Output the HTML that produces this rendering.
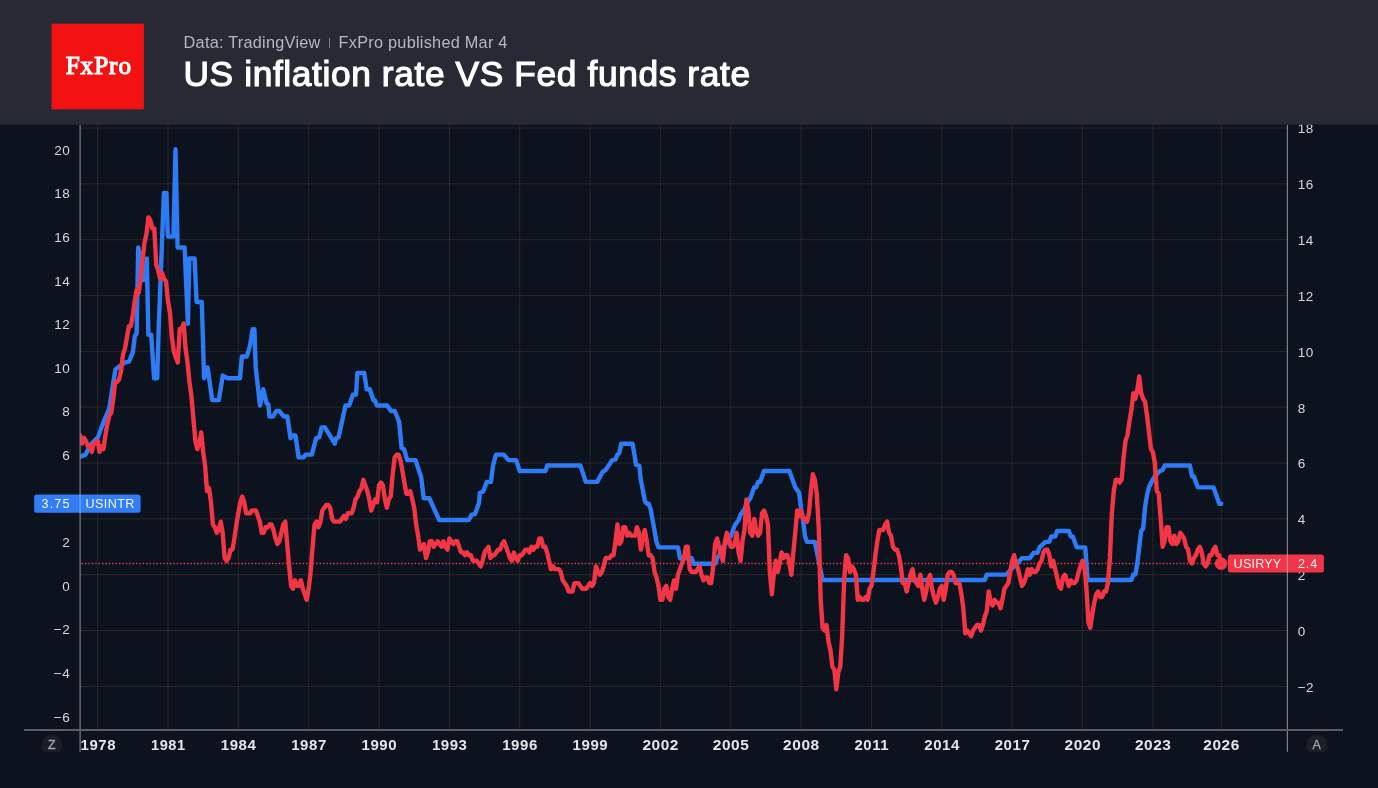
<!DOCTYPE html>
<html lang="en">
<head>
<meta charset="utf-8">
<title>US inflation rate VS Fed funds rate</title>
<style>
html,body{margin:0;padding:0;}
body{width:1378px;height:788px;overflow:hidden;background:#0c131f;font-family:"Liberation Sans",sans-serif;position:relative;}
#hdr{position:absolute;left:0;top:0;width:1378px;height:124.7px;}
#logo{position:absolute;left:51.6px;top:23.7px;width:92.3px;height:85.6px;color:#fff;font-family:"Liberation Serif",serif;font-weight:normal;font-size:25.2px;line-height:85.6px;text-align:center;letter-spacing:0.95px;-webkit-text-stroke:1.15px #fff;}
#logo span{position:relative;top:-1.2px;left:1.1px;}
#sub{position:absolute;left:183.6px;top:32px;font-size:16.3px;line-height:20px;color:#b6b8c1;white-space:nowrap;letter-spacing:0.25px;}
#sub .sep{display:inline-block;width:1px;height:10px;background:#7a7d88;margin:0 8.5px 0 8.5px;}
#ttl{position:absolute;left:183.5px;top:52.3px;font-size:35.3px;line-height:44px;color:#fff;white-space:nowrap;-webkit-text-stroke:1.2px #fff;letter-spacing:0.62px;}
#chart{position:absolute;left:0;top:0;}
</style>
</head>
<body>
<svg id="chart" width="1378" height="788" viewBox="0 0 1378 788">
<defs><clipPath id="pc"><rect x="80.1" y="124.7" width="1207.3000000000002" height="605.1999999999999"/></clipPath></defs>
<g stroke="#292725" stroke-width="1">
<line x1="97.62" y1="124.7" x2="97.62" y2="729.9"/>
<line x1="167.97" y1="124.7" x2="167.97" y2="729.9"/>
<line x1="238.32" y1="124.7" x2="238.32" y2="729.9"/>
<line x1="308.67" y1="124.7" x2="308.67" y2="729.9"/>
<line x1="379.02" y1="124.7" x2="379.02" y2="729.9"/>
<line x1="449.37" y1="124.7" x2="449.37" y2="729.9"/>
<line x1="519.72" y1="124.7" x2="519.72" y2="729.9"/>
<line x1="590.07" y1="124.7" x2="590.07" y2="729.9"/>
<line x1="660.42" y1="124.7" x2="660.42" y2="729.9"/>
<line x1="730.77" y1="124.7" x2="730.77" y2="729.9"/>
<line x1="801.12" y1="124.7" x2="801.12" y2="729.9"/>
<line x1="871.47" y1="124.7" x2="871.47" y2="729.9"/>
<line x1="941.82" y1="124.7" x2="941.82" y2="729.9"/>
<line x1="1012.17" y1="124.7" x2="1012.17" y2="729.9"/>
<line x1="1082.52" y1="124.7" x2="1082.52" y2="729.9"/>
<line x1="1152.87" y1="124.7" x2="1152.87" y2="729.9"/>
<line x1="1221.31" y1="124.7" x2="1221.31" y2="729.9"/>
<line x1="80.1" y1="128.00" x2="1287.4" y2="128.00"/>
<line x1="80.1" y1="183.84" x2="1287.4" y2="183.84"/>
<line x1="80.1" y1="239.68" x2="1287.4" y2="239.68"/>
<line x1="80.1" y1="295.52" x2="1287.4" y2="295.52"/>
<line x1="80.1" y1="351.36" x2="1287.4" y2="351.36"/>
<line x1="80.1" y1="407.20" x2="1287.4" y2="407.20"/>
<line x1="80.1" y1="463.04" x2="1287.4" y2="463.04"/>
<line x1="80.1" y1="518.88" x2="1287.4" y2="518.88"/>
<line x1="80.1" y1="574.72" x2="1287.4" y2="574.72"/>
<line x1="80.1" y1="630.56" x2="1287.4" y2="630.56"/>
<line x1="80.1" y1="686.40" x2="1287.4" y2="686.40"/>
</g>
<line x1="81.6" y1="563.5" x2="1228" y2="563.5" stroke="#ee3a4e" stroke-width="1.3" stroke-dasharray="1.4 2.0"/>
<g clip-path="url(#pc)" fill="none" stroke-linejoin="round" stroke-linecap="round" stroke-width="4.4">
<polyline stroke="#2e7bf6" points="80.3,456.821 85.5,454.64 90.5,444.826 98,437.192 103.5,421.925 109.2,408.839 112.9,384.848 115.4,369.581 119.2,366.309 125.4,362.384 129.2,361.293 132.9,352.133 134.8,336.212 136.6,333.594 138.2,247.445 143.6,280.16 144.7,280.16 146.8,258.35 148.4,334.685 151.2,334.685 154.1,378.305 157.2,378.305 158.7,328.142 163.9,192.92 166.4,192.92 167.8,236.54 173.4,236.54 175.5,149.3 177.6,247.445 184.6,247.445 187.9,323.78 189.3,258.35 194.6,258.35 196.6,301.97 201.8,301.97 204.1,378.305 207.6,367.4 212.2,400.115 218.8,400.115 222.8,375.579 227.8,378.305 240,378.305 241.9,356.495 246.8,356.495 250,345.59 252.6,329.232 254.4,329.232 255.7,367.4 260,405.567 263.2,389.21 266.6,403.387 268.4,404.477 269.4,416.472 273.1,416.472 276.2,411.02 279.3,411.02 283.7,416.472 287.4,416.472 290.5,438.282 292.4,435.556 295.5,435.556 298.6,457.366 303.6,457.366 305.5,454.64 311.8,454.64 316.1,438.282 319.2,437.192 321.7,427.377 324.9,427.377 334.8,443.735 336.1,438.282 338.6,437.192 345.5,405.567 349.2,405.567 352.9,394.663 356,394.663 357.4,372.852 364.2,372.852 366.7,389.21 369.8,389.21 373.3,400.115 374.8,400.115 376.9,405.567 387.2,405.567 391,411.02 394.7,411.02 399.2,421.925 401.6,448.097 404.1,449.188 407.2,460.092 415.6,460.092 421.2,477.541 423.7,498.26 429.3,498.26 439.3,520.07 468.7,520.07 471.8,514.618 474.9,514.181 479,503.058 479.9,492.808 483,491.717 486.8,481.902 491,481.902 493,465.545 496,454.64 503.8,454.64 508.5,460.092 516.2,460.092 519.7,470.998 545.6,470.998 547.2,465.545 580.4,465.545 585.8,481.902 597.3,481.902 602.5,472.088 605.6,469.907 612.4,460.092 615.5,459.438 617.4,454.64 619.3,453.113 621.2,443.735 632.6,443.735 636.1,464.891 639.3,465.545 640.6,478.631 644.9,501.095 646.8,503.712 648.7,503.71 650.66,509.16 652.61,520.07 654.57,530.97 656.52,541.88 658.48,547.33 678.02,547.33 679.97,558.24 691.7,558.24 693.65,563.69 715.15,563.69 717.1,558.24 721.01,552.78 722.96,547.33 726.87,541.88 728.83,536.43 730.78,536.43 732.74,530.97 734.69,525.52 738.6,520.07 740.55,514.62 744.46,509.16 746.41,503.71 750.32,498.26 752.28,492.81 754.23,487.36 756.19,487.36 758.14,481.9 760.09,481.9 762.05,476.45 764,471 789.41,471 793.32,481.9 795.27,487.36 799.18,492.81 801.13,509.16 803.09,520.07 805.04,536.43 806.99,541.88 814.81,541.88 822.63,580.05 984.83,580.05 986.78,574.6 1006.32,574.6 1021.96,558.24 1029.77,558.24 1033.68,552.78 1037.59,552.78 1039.54,547.33 1045.41,541.88 1049.32,541.88 1051.27,536.43 1055.18,536.43 1057.13,530.97 1068.86,530.97 1070.81,536.43 1072.77,536.43 1074.72,541.88 1076.67,547.33 1085.27,547.33 1087.62,580.05 1131.39,580.05 1133.35,574.6 1135.3,574.6 1137.25,563.69 1139.21,547.33 1141.16,530.97 1143.12,528.79 1145.07,506.98 1147.03,494.99 1148.98,487.36 1150.93,482.99 1152.89,479.29 1154.84,476.45 1156.8,474.27 1158.75,472.09 1160.7,470.56 1162.66,469.91 1164.61,465.55 1190.02,465.55 1191.97,476.45 1193.93,476.45 1195.88,481.9 1197.83,487.36 1213.47,487.36 1215.42,492.81 1217.38,498.26 1219.33,503.71 1221.28,503.71"/>
<polyline stroke="#f23645" points="80.03,435.12 81.99,443.5 83.94,437.91 85.89,440.7 87.85,446.29 89.8,446.29 91.76,451.87 93.71,443.5 95.67,443.5 97.62,440.7 99.57,451.87 101.53,446.29 103.48,449.08 105.44,435.12 107.39,423.95 109.35,415.58 111.3,412.78 113.25,398.82 115.21,382.07 117.16,382.07 119.12,379.28 121.07,370.9 123.02,354.15 124.98,348.57 126.93,337.4 128.89,326.23 130.84,326.23 132.8,315.06 134.75,301.1 136.7,289.94 138.66,292.73 140.61,278.77 142.57,259.22 144.52,242.47 146.47,234.1 148.43,217.34 150.38,220.14 152.34,228.51 154.29,228.51 156.25,264.81 158.2,270.39 160.15,278.77 162.11,273.18 164.06,278.77 166.02,281.56 167.97,301.1 169.93,312.27 171.88,337.4 173.83,351.36 175.79,356.94 177.74,362.53 179.7,329.02 181.65,329.02 183.6,323.44 185.56,348.57 187.51,362.53 189.47,382.07 191.42,396.03 193.38,418.37 195.33,440.7 197.28,449.08 199.24,443.5 201.19,432.33 203.15,451.87 205.1,465.83 207.06,490.96 209.01,488.17 210.96,502.13 212.92,524.46 214.87,527.26 216.83,532.84 218.78,530.05 220.73,521.67 222.69,532.84 224.64,557.97 226.6,560.76 228.55,557.97 230.51,549.59 232.46,549.59 234.41,538.42 236.37,524.46 238.32,513.3 240.28,502.13 242.23,496.54 244.19,502.13 246.14,513.3 248.09,513.3 250.05,513.3 252,510.5 253.96,510.5 255.91,510.5 257.86,516.09 259.82,521.67 261.77,532.84 263.73,532.84 265.68,527.26 267.64,527.26 269.59,524.46 271.54,524.46 273.5,530.05 275.45,538.42 277.41,544.01 279.36,541.22 281.31,532.84 283.27,524.46 285.22,521.67 287.18,544.01 289.13,566.34 291.09,585.89 293.04,588.68 294.99,580.3 296.95,585.89 298.9,585.89 300.86,580.3 302.81,588.68 304.77,594.26 306.72,599.85 308.67,588.68 310.63,571.93 312.58,546.8 314.54,524.46 316.49,521.67 318.44,527.26 320.4,521.67 322.35,510.5 324.31,507.71 326.26,504.92 328.22,504.92 330.17,507.71 332.12,518.88 334.08,521.67 336.03,521.67 337.99,521.67 339.94,521.67 341.89,518.88 343.85,516.09 345.8,518.88 347.76,513.3 349.71,513.3 351.67,513.3 353.62,507.71 355.57,499.34 357.53,496.54 359.48,490.96 361.44,488.17 363.39,479.79 365.35,485.38 367.3,490.96 369.25,499.34 371.21,510.5 373.16,504.92 375.12,499.34 377.07,502.13 379.02,485.38 380.98,482.58 382.93,485.38 384.89,499.34 386.84,507.71 388.8,499.34 390.75,496.54 392.7,474.21 394.66,457.46 396.61,454.66 398.57,454.66 400.52,460.25 402.48,471.42 404.43,482.58 406.38,493.75 408.34,493.75 410.29,490.96 412.25,499.34 414.2,507.71 416.15,524.46 418.11,535.63 420.06,549.59 422.02,546.8 423.97,544.01 425.93,557.97 427.88,552.38 429.83,541.22 431.79,541.22 433.74,546.8 435.7,544.01 437.65,541.22 439.61,544.01 441.56,546.8 443.51,541.22 445.47,546.8 447.42,549.59 449.38,538.42 451.33,541.22 453.28,544.01 455.24,541.22 457.19,541.22 459.15,546.8 461.1,552.38 463.06,552.38 465.01,555.18 466.96,552.38 468.92,555.18 470.87,555.18 472.83,560.76 474.78,560.76 476.73,560.76 478.69,563.55 480.64,566.34 482.6,560.76 484.55,552.38 486.51,549.59 488.46,546.8 490.41,557.97 492.37,555.18 494.32,555.18 496.28,552.38 498.23,549.59 500.19,549.59 502.14,544.01 504.09,541.22 506.05,546.8 508,552.38 509.96,557.97 511.91,560.76 513.86,552.38 515.82,557.97 517.77,560.76 519.73,555.18 521.68,555.18 523.64,552.38 525.59,549.59 527.54,549.59 529.5,552.38 531.45,546.8 533.41,549.59 535.36,546.8 537.32,546.8 539.27,538.42 541.22,538.42 543.18,546.8 545.13,546.8 547.09,552.38 549.04,560.76 550.99,569.14 552.95,566.34 554.9,569.14 556.86,569.14 558.81,569.14 560.77,571.93 562.72,580.3 564.67,583.1 566.63,585.89 568.58,591.47 570.54,591.47 572.49,591.47 574.44,583.1 576.4,583.1 578.35,583.1 580.31,585.89 582.26,588.68 584.22,588.68 586.17,588.68 588.12,585.89 590.08,583.1 592.03,585.89 593.99,583.1 595.94,566.34 597.9,571.93 599.85,574.72 601.8,571.93 603.76,566.34 605.71,557.97 607.67,557.97 609.62,557.97 611.57,555.18 613.53,555.18 615.48,541.22 617.44,524.46 619.39,544.01 621.35,541.22 623.3,527.26 625.25,527.26 627.21,535.63 629.16,532.84 631.12,535.63 633.07,535.63 635.02,535.63 636.98,527.26 638.93,532.84 640.89,549.59 642.84,538.42 644.8,530.05 646.75,541.22 648.7,555.18 650.66,555.18 652.61,557.97 654.57,571.93 656.52,577.51 658.48,585.89 660.43,599.85 662.38,599.85 664.34,588.68 666.29,585.89 668.25,597.06 670.2,599.85 672.15,588.68 674.11,580.3 676.06,588.68 678.02,574.72 679.97,569.14 681.93,563.55 683.88,557.97 685.83,546.8 687.79,546.8 689.74,569.14 691.7,571.93 693.65,571.93 695.61,571.93 697.56,569.14 699.51,566.34 701.47,574.72 703.42,580.3 705.38,577.51 707.33,577.51 709.28,583.1 711.24,583.1 713.19,566.34 715.15,544.01 717.1,538.42 719.06,546.8 721.01,555.18 722.96,560.76 724.92,541.22 726.87,532.84 728.83,538.42 730.78,546.8 732.74,546.8 734.69,544.01 736.64,532.84 738.6,552.38 740.55,560.76 742.51,541.22 744.46,530.05 746.41,499.34 748.37,510.5 750.32,532.84 752.28,535.63 754.23,518.88 756.19,530.05 758.14,535.63 760.09,532.84 762.05,513.3 764,510.5 765.96,516.09 767.91,524.46 769.86,571.93 771.82,594.26 773.77,574.72 775.73,560.76 777.68,571.93 779.64,563.55 781.59,552.38 783.54,557.97 785.5,555.18 787.45,555.18 789.41,563.55 791.36,574.72 793.32,552.38 795.27,532.84 797.22,510.5 799.18,516.09 801.13,510.5 803.09,518.88 805.04,518.88 806.99,521.67 808.95,513.3 810.9,490.96 812.86,474.21 814.81,479.79 816.77,493.75 818.72,527.26 820.67,599.85 822.63,627.77 824.58,630.56 826.54,624.98 828.49,641.73 830.44,650.1 832.4,666.86 834.35,669.65 836.31,689.19 838.26,672.44 840.22,666.86 842.17,636.14 844.12,580.3 846.08,555.18 848.03,557.97 849.99,571.93 851.94,566.34 853.9,569.14 855.85,574.72 857.8,599.85 859.76,597.06 861.71,599.85 863.67,599.85 865.62,597.06 867.57,599.85 869.53,588.68 871.48,585.89 873.44,571.93 875.39,555.18 877.35,541.22 879.3,530.05 881.25,530.05 883.21,530.05 885.16,524.46 887.12,521.67 889.07,532.84 891.03,535.63 892.98,546.8 894.93,549.59 896.89,549.59 898.84,555.18 900.8,566.34 902.75,583.1 904.7,583.1 906.66,591.47 908.61,583.1 910.57,574.72 912.52,569.14 914.48,580.3 916.43,583.1 918.38,585.89 920.34,574.72 922.29,588.68 924.25,599.85 926.2,591.47 928.15,580.3 930.11,574.72 932.06,588.68 934.02,597.06 935.97,602.64 937.93,597.06 939.88,588.68 941.83,585.89 943.79,599.85 945.74,588.68 947.7,574.72 949.65,571.93 951.61,571.93 953.56,574.72 955.51,583.1 957.47,583.1 959.42,583.1 961.38,594.26 963.33,608.22 965.28,633.35 967.24,630.56 969.19,633.35 971.15,636.14 973.1,630.56 975.06,627.77 977.01,624.98 978.96,624.98 980.92,630.56 982.87,624.98 984.83,616.6 986.78,611.02 988.74,591.47 990.69,602.64 992.64,605.43 994.6,599.85 996.55,602.64 998.51,602.64 1000.46,608.22 1002.41,599.85 1004.37,588.68 1006.32,585.89 1008.28,583.1 1010.23,571.93 1012.19,560.76 1014.14,555.18 1016.09,563.55 1018.05,569.14 1020,577.51 1021.96,585.89 1023.91,583.1 1025.87,577.51 1027.82,569.14 1029.77,574.72 1031.73,569.14 1033.68,571.93 1035.64,571.93 1037.59,569.14 1039.54,563.55 1041.5,560.76 1043.45,552.38 1045.41,549.59 1047.36,549.59 1049.32,555.18 1051.27,566.34 1053.22,560.76 1055.18,569.14 1057.13,577.51 1059.09,585.89 1061.04,588.68 1062.99,577.51 1064.95,574.72 1066.9,580.3 1068.86,585.89 1070.81,580.3 1072.77,583.1 1074.72,583.1 1076.67,580.3 1078.63,571.93 1080.58,566.34 1082.54,560.76 1084.49,566.34 1086.45,588.68 1088.4,622.18 1090.35,627.77 1092.31,613.81 1094.26,602.64 1096.22,594.26 1098.17,591.47 1100.12,597.06 1102.08,597.06 1104.03,591.47 1105.99,591.47 1107.94,583.1 1109.9,557.97 1111.85,513.3 1113.8,490.96 1115.76,479.79 1117.71,479.79 1119.67,482.58 1121.62,479.79 1123.57,457.46 1125.53,440.7 1127.48,435.12 1129.44,421.16 1131.39,409.99 1133.35,393.24 1135.3,398.82 1137.25,390.45 1139.21,376.49 1141.16,393.24 1143.12,398.82 1145.07,401.62 1147.03,415.58 1148.98,432.33 1150.93,449.08 1152.89,451.87 1154.84,463.04 1156.8,490.96 1158.75,493.75 1160.7,518.88 1162.66,546.8 1164.61,541.22 1166.57,527.26 1168.52,527.26 1170.48,541.22 1172.43,544.01 1174.38,535.63 1176.34,544.01 1178.29,541.22 1180.25,532.84 1182.2,535.63 1184.16,538.42 1186.11,546.8 1188.06,549.59 1190.02,560.76 1191.97,563.55 1193.93,557.97 1195.88,555.18 1197.83,549.59 1199.79,546.8 1201.74,552.38 1203.7,563.55 1205.65,566.34 1207.61,563.55 1209.56,555.18 1211.51,555.18 1213.47,549.59 1215.42,546.8 1217.38,555.18 1219.33,555.18 1221.28,563.55"/>
</g>
<circle cx="1221.1" cy="563.6" r="6.3" fill="#f23645"/>
<g stroke="#7f8188" stroke-width="1.2">
<line x1="80.1" y1="124.7" x2="80.1" y2="751.7"/>
<line x1="1287.4" y1="124.7" x2="1287.4" y2="751.7"/>
</g>
<line x1="24" y1="729.9" x2="1343" y2="729.9" stroke="#5a5d66" stroke-width="2"/>
<g font-family="'Liberation Sans',sans-serif" font-size="13.5" fill="#d5d7dc" letter-spacing="0.45">
<text x="70.15" y="154.6" text-anchor="end">20</text>
<text x="70.15" y="198.2" text-anchor="end">18</text>
<text x="70.15" y="241.8" text-anchor="end">16</text>
<text x="70.15" y="285.5" text-anchor="end">14</text>
<text x="70.15" y="329.1" text-anchor="end">12</text>
<text x="70.15" y="372.7" text-anchor="end">10</text>
<text x="70.15" y="416.3" text-anchor="end">8</text>
<text x="70.15" y="459.9" text-anchor="end">6</text>
<text x="70.15" y="503.6" text-anchor="end">4</text>
<text x="70.15" y="547.2" text-anchor="end">2</text>
<text x="70.15" y="590.8" text-anchor="end">0</text>
<text x="70.15" y="634.4" text-anchor="end">−2</text>
<text x="70.15" y="678.0" text-anchor="end">−4</text>
<text x="70.15" y="721.7" text-anchor="end">−6</text>
<text x="1297.7" y="133.4">18</text>
<text x="1297.7" y="189.2">16</text>
<text x="1297.7" y="245.1">14</text>
<text x="1297.7" y="300.9">12</text>
<text x="1297.7" y="356.8">10</text>
<text x="1297.7" y="412.6">8</text>
<text x="1297.7" y="468.4">6</text>
<text x="1297.7" y="524.3">4</text>
<text x="1297.7" y="580.1">2</text>
<text x="1297.7" y="636.0">0</text>
<text x="1297.7" y="691.8">−2</text>
</g>
<g font-family="'Liberation Sans',sans-serif" font-size="14" font-weight="bold" fill="#e4e5e9" letter-spacing="0.5">
<text x="80.5" y="750" textLength="35.6" lengthAdjust="spacingAndGlyphs">1978</text>
<text x="151.0" y="750" textLength="34.6" lengthAdjust="spacingAndGlyphs">1981</text>
<text x="220.8" y="750" textLength="35.6" lengthAdjust="spacingAndGlyphs">1984</text>
<text x="291.2" y="750" textLength="35.6" lengthAdjust="spacingAndGlyphs">1987</text>
<text x="361.5" y="750" textLength="35.6" lengthAdjust="spacingAndGlyphs">1990</text>
<text x="431.9" y="750" textLength="35.6" lengthAdjust="spacingAndGlyphs">1993</text>
<text x="502.2" y="750" textLength="35.6" lengthAdjust="spacingAndGlyphs">1996</text>
<text x="572.6" y="750" textLength="35.6" lengthAdjust="spacingAndGlyphs">1999</text>
<text x="642.4" y="750" textLength="36.6" lengthAdjust="spacingAndGlyphs">2002</text>
<text x="712.8" y="750" textLength="36.6" lengthAdjust="spacingAndGlyphs">2005</text>
<text x="783.1" y="750" textLength="36.6" lengthAdjust="spacingAndGlyphs">2008</text>
<text x="854.5" y="750" textLength="34.6" lengthAdjust="spacingAndGlyphs">2011</text>
<text x="924.3" y="750" textLength="35.6" lengthAdjust="spacingAndGlyphs">2014</text>
<text x="994.7" y="750" textLength="35.6" lengthAdjust="spacingAndGlyphs">2017</text>
<text x="1064.5" y="750" textLength="36.6" lengthAdjust="spacingAndGlyphs">2020</text>
<text x="1134.9" y="750" textLength="36.6" lengthAdjust="spacingAndGlyphs">2023</text>
<text x="1203.3" y="750" textLength="36.6" lengthAdjust="spacingAndGlyphs">2026</text>
</g>
<defs><clipPath id="bc"><rect x="0" y="730" width="1378" height="21.8"/></clipPath></defs>
<g clip-path="url(#bc)" fill="#1c1f27"><circle cx="51.9" cy="745.2" r="10.5"/><circle cx="1316.7" cy="745.2" r="10.5"/></g>
<g font-family="'Liberation Sans',sans-serif" font-size="12.4" fill="#a3a5ad" text-anchor="middle" stroke="#a3a5ad" stroke-width="0.3"><text x="51.8" y="749.1">Z</text><text x="1316.7" y="749.1">A</text></g>
<rect x="34.2" y="494.5" width="106.4" height="18.2" rx="2.5" fill="#317df5"/>
<line x1="80.1" y1="494.5" x2="80.1" y2="512.7" stroke="#75a6f7" stroke-width="1.2"/>
<g font-family="'Liberation Sans',sans-serif" font-size="12.6" fill="#f4f7ff">
<text x="41.6" y="508.4" letter-spacing="1.1">3.75</text><text x="85.5" y="508.4" letter-spacing="0.4">USINTR</text>
</g>
<rect x="1228" y="554.4" width="95.9" height="18" rx="2.5" fill="#f03648"/>
<line x1="1287.4" y1="554.4" x2="1287.4" y2="572.4" stroke="#f48a95" stroke-width="1.2"/>
<g font-family="'Liberation Sans',sans-serif" font-size="12.6" fill="#fff4f5">
<text x="1233.6" y="568" letter-spacing="0.2">USIRYY</text><text x="1297.9" y="568" letter-spacing="0.9">2.4</text>
</g>
<rect x="0" y="0" width="1378" height="124.7" fill="#272935"/>
<rect x="51.6" y="23.7" width="92.3" height="85.6" fill="#f21212"/>
</svg>
<div id="hdr">
<div id="logo"><span>FxPro</span></div>
<div id="sub">Data: TradingView<span class="sep"></span>FxPro published Mar 4</div>
<div id="ttl">US inflation rate VS Fed funds rate</div>
</div>
</body>
</html>
